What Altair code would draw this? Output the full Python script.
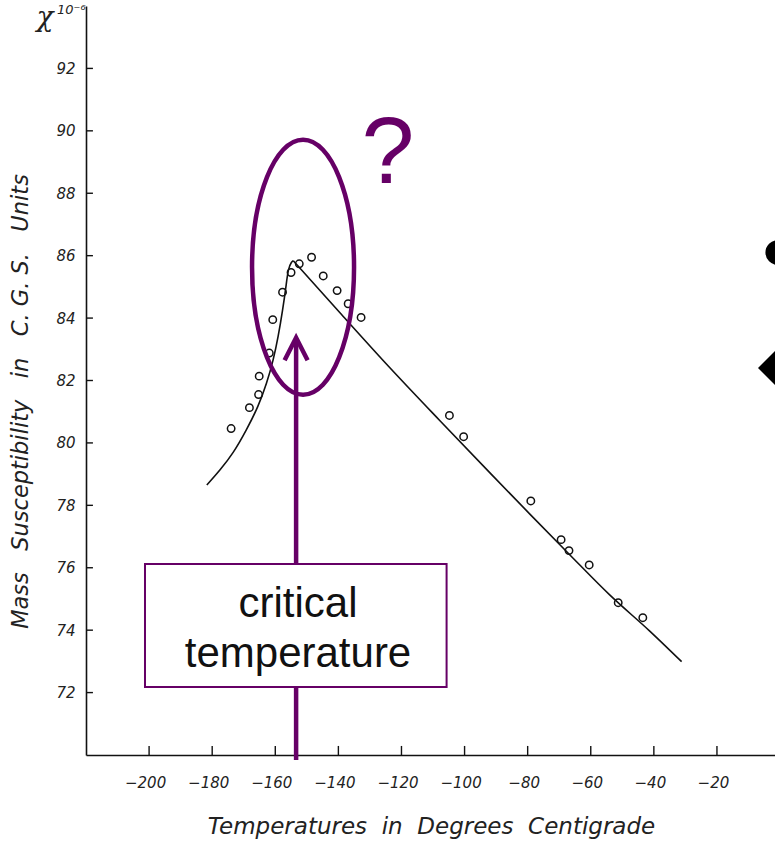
import altair as alt
import pandas as pd

# ---- data ----
temp_obs = [-174.0, -168.2, -165.3, -165.1, -161.9, -160.8, -157.7, -155.0, -152.4,
            -148.5, -144.8, -140.4, -136.9, -132.8, -104.8, -100.3, -79.0, -69.4,
            -66.9, -60.5, -51.3, -43.5]
chi_obs = [80.46, 81.13, 81.55, 82.14, 82.88, 83.95, 84.83, 85.46, 85.74,
           85.95, 85.35, 84.88, 84.46, 84.02, 80.88, 80.20, 78.14, 76.90,
           76.55, 76.09, 74.88, 74.40]

temp_left = [-181.7, -177.5, -173.3, -169.1, -165.4, -162.7, -160.6, -159.05, -157.65, -156.6, -155.9, -154.8, -154.3]
chi_left = [78.65, 79.13, 79.67, 80.42, 81.16, 81.91, 82.66, 83.41, 84.26, 85.01, 85.60, 85.81, 85.84]
temp_right = [-154.3, -139.5, -123.6, -107.8, -91.95, -79.3, -66.6, -54.0, -41.3, -31.2]
chi_right = [85.84, 84.17, 82.40, 80.71, 79.04, 77.72, 76.41, 75.13, 73.97, 72.99]

x_ticks = [-200, -180, -160, -140, -120, -100, -80, -60, -40, -20]
y_ticks = [72, 74, 76, 78, 80, 82, 84, 86, 88, 90, 92]

# annotation anchors (data coordinates)
ellipse_center = [-151.2, 85.63]
arrow_x = -153.4
arrow_y = [69.84, 83.0]
box_x = [-201.3, -105.7]
box_y = [72.18, 76.12]
box_lines = ["critical", "temperature"]
box_line_y = [74.42, 72.82]
box_text_x = -152.8
qmark_pos = [-124.3, 88.33]
# cropped slide icons at the right edge
icon_x = [-1.6, -0.7]
icon_y = [82.4, 86.1]
icon_shape = ["diamond", "circle"]
icon_size = [1156, 616]

PURPLE = "#660066"
INK = "#111111"
HAND = "DejaVu Sans"
NB = "\u00a0"

y_title = (NB * 3).join(["Mass", "Susceptibility", "in", "C." + NB + "G." + NB + "S.", "Units"])
x_title = (NB * 2).join(["Temperatures", "in", "Degrees", "Centigrade"])

xscale = alt.Scale(domain=[-220, -1.6], nice=False, zero=False)
yscale = alt.Scale(domain=[70, 94], nice=False, zero=False)

left_df = pd.DataFrame({"t": temp_left, "chi": chi_left})
right_df = pd.DataFrame({"t": temp_right, "chi": chi_right})
obs_df = pd.DataFrame({"t": temp_obs, "chi": chi_obs})

right_curve = alt.Chart(right_df).mark_line(color=INK, strokeWidth=1.6, interpolate="monotone").encode(
    x=alt.X("t:Q", scale=xscale, axis=alt.Axis(
        values=x_ticks, tickSize=0, labelPadding=20, labelOffset=-4, grid=False,
        domainColor=INK, domainWidth=1.6,
        labelFont=HAND, labelFontStyle="italic", labelFontSize=15, labelColor="#222",
        title=x_title,
        titleFont=HAND, titleFontStyle="italic", titleFontWeight="normal", titleFontSize=23,
        titleColor="#222", titleX=345, titleY=71, titleAlign="center", titleBaseline="middle")),
    y=alt.Y("chi:Q", scale=yscale, axis=alt.Axis(
        values=y_ticks, tickSize=0, labelPadding=11, grid=False,
        domainColor=INK, domainWidth=1.6,
        labelFont=HAND, labelFontStyle="italic", labelFontSize=15, labelColor="#222",
        title=y_title,
        titleFont=HAND, titleFontStyle="italic", titleFontWeight="normal", titleFontSize=22.5,
        titleColor="#222", titleAngle=270, titleX=-66, titleY=395, titleAlign="center",
        titleBaseline="middle")),
)
left_curve = alt.Chart(left_df).mark_line(color=INK, strokeWidth=1.6, interpolate="basis").encode(
    x=alt.X("t:Q", scale=xscale),
    y=alt.Y("chi:Q", scale=yscale),
)

circles = alt.Chart(obs_df).mark_point(shape="circle", filled=False, color="#111",
                                       size=55, strokeWidth=1.5, opacity=1).encode(
    x=alt.X("t:Q", scale=xscale),
    y=alt.Y("chi:Q", scale=yscale),
)

ytick_df = pd.DataFrame({"chi": y_ticks, "t": [-220.0] * len(y_ticks), "t2": [-217.8] * len(y_ticks)})
yticks = alt.Chart(ytick_df).mark_rule(color=INK, strokeWidth=1.4).encode(
    x=alt.X("t:Q", scale=xscale), x2="t2:Q",
    y=alt.Y("chi:Q", scale=yscale),
)
xtick_df = pd.DataFrame({"t": x_ticks, "chi": [70.0] * len(x_ticks), "chi2": [70.29] * len(x_ticks)})
xticks = alt.Chart(xtick_df).mark_rule(color=INK, strokeWidth=1.4).encode(
    x=alt.X("t:Q", scale=xscale),
    y=alt.Y("chi:Q", scale=yscale), y2="chi2:Q",
)

ELLIPSE_PATH = ("M 0.4 0 C 0.4 0.5523 0.2209 1 0 1 C -0.2209 1 -0.4 0.5523 -0.4 0 "
                "C -0.4 -0.5523 -0.2209 -1 0 -1 C 0.2209 -1 0.4 -0.5523 0.4 0 Z")
ell_df = pd.DataFrame({"t": [ellipse_center[0]], "chi": [ellipse_center[1]]})
ellipse = alt.Chart(ell_df).mark_point(shape=ELLIPSE_PATH, filled=False, stroke=PURPLE,
                                       strokeWidth=4.5, size=65025, opacity=1).encode(
    x=alt.X("t:Q", scale=xscale),
    y=alt.Y("chi:Q", scale=yscale),
)

shaft_df = pd.DataFrame({"t": [arrow_x], "chi": [arrow_y[0]], "chi2": [arrow_y[1] + 0.3]})
shaft = alt.Chart(shaft_df).mark_rule(color=PURPLE, strokeWidth=4.5).encode(
    x=alt.X("t:Q", scale=xscale),
    y=alt.Y("chi:Q", scale=yscale), y2="chi2:Q",
)
head_df = pd.DataFrame({"t": [arrow_x], "chi": [arrow_y[1]]})
head = alt.Chart(head_df).mark_point(shape="M -1 0.95 L 0 -1 L 1 0.95", filled=False,
                                     stroke=PURPLE, strokeWidth=4.5, size=529, opacity=1,
                                     strokeJoin="miter").encode(
    x=alt.X("t:Q", scale=xscale),
    y=alt.Y("chi:Q", scale=yscale),
)

box_df = pd.DataFrame({"t": [box_x[0]], "t2": [box_x[1]], "chi": [box_y[0]], "chi2": [box_y[1]]})
box = alt.Chart(box_df).mark_rect(fill="white", stroke=PURPLE, strokeWidth=2).encode(
    x=alt.X("t:Q", scale=xscale), x2="t2:Q",
    y=alt.Y("chi:Q", scale=yscale), y2="chi2:Q",
)
bt_df = pd.DataFrame({"txt": box_lines, "t": [box_text_x] * 2, "chi": box_line_y})
box_text = alt.Chart(bt_df).mark_text(font="Liberation Sans", fontSize=42, color="#111",
                                      align="center", baseline="alphabetic").encode(
    x=alt.X("t:Q", scale=xscale),
    y=alt.Y("chi:Q", scale=yscale),
    text="txt:N",
)

q_df = pd.DataFrame({"t": [qmark_pos[0]], "chi": [qmark_pos[1]], "txt": ["?"]})
qmark = alt.Chart(q_df).mark_text(font="Liberation Sans", fontSize=95, color=PURPLE,
                                  align="center", baseline="alphabetic").encode(
    x=alt.X("t:Q", scale=xscale),
    y=alt.Y("chi:Q", scale=yscale),
    text="txt:N",
)

icon_df = pd.DataFrame({"t": icon_x, "chi": icon_y, "shape": icon_shape, "size": icon_size})
icons = alt.Chart(icon_df).mark_point(filled=True, color="#000", opacity=1).encode(
    x=alt.X("t:Q", scale=xscale),
    y=alt.Y("chi:Q", scale=yscale),
    shape=alt.Shape("shape:N", scale=None, legend=None),
    size=alt.Size("size:Q", scale=None, legend=None),
)

chi_df = pd.DataFrame({"txt": ["χ"]})
chi_sym = alt.Chart(chi_df).mark_text(font="DejaVu Serif", fontStyle="italic", fontSize=28,
                                      color="#222", align="center", baseline="alphabetic").encode(
    x=alt.value(-41), y=alt.value(20), text="txt:N")
exp_df = pd.DataFrame({"txt": ["10⁻⁶"]})
chi_exp = alt.Chart(exp_df).mark_text(font=HAND, fontStyle="italic", fontSize=13,
                                      color="#222", align="left", baseline="alphabetic").encode(
    x=alt.value(-29), y=alt.value(8), text="txt:N")

chart = alt.layer(
    right_curve, left_curve, circles, yticks, xticks, ellipse, shaft, head, box, box_text,
    qmark, icons, chi_sym, chi_exp
).properties(
    width=689, height=749,
    autosize=alt.AutoSizeParams(type="none"),
    padding={"left": 86, "top": 6, "right": 0, "bottom": 86},
    background="white",
).configure_view(stroke=None)

chart.save("out.html", embed_options={"renderer": "svg", "actions": False})
